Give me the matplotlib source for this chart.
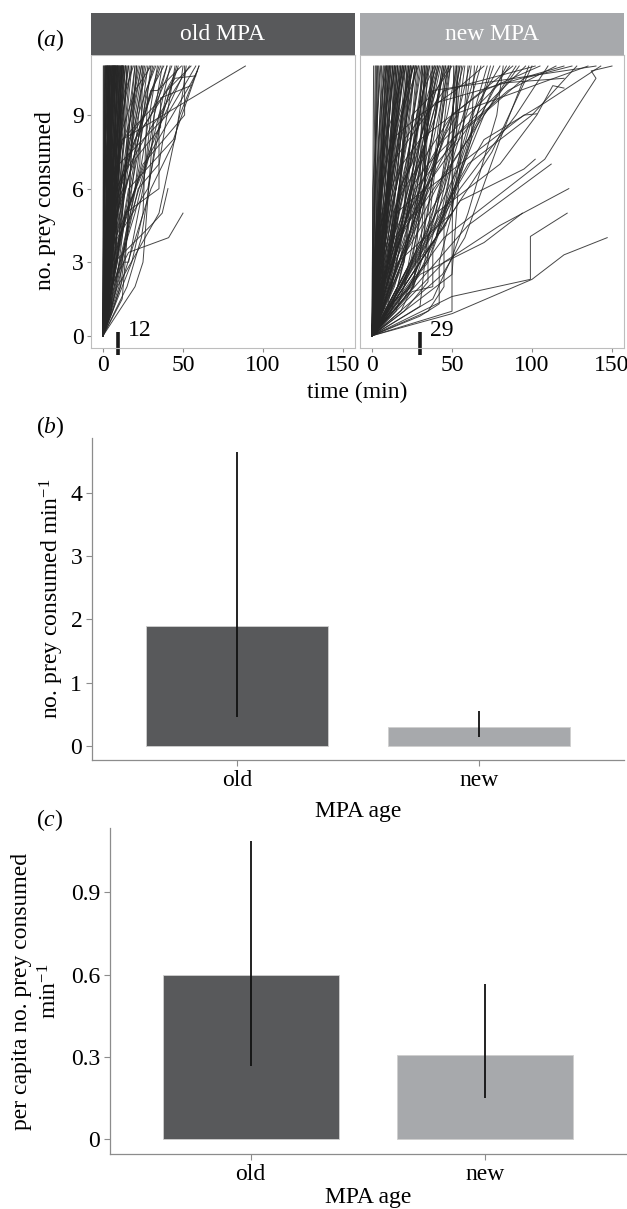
import matplotlib
matplotlib.use("Agg")
import matplotlib.pyplot as plt

plt.rcParams['font.family'] = ['Liberation Serif', 'DejaVu Serif']
plt.rcParams['mathtext.fontset'] = 'custom'
plt.rcParams['mathtext.rm'] = 'Liberation Serif'
plt.rcParams['mathtext.it'] = 'Liberation Serif:italic'
plt.rcParams['mathtext.default'] = 'regular'

# ---------------- data ----------------
facets = ["old MPA", "new MPA"]
strip_colors = ["#58595b", "#a7a9ac"]
median_time_pos = [9.5, 30]
median_time_labels = ["12", "29"]

old_paths = [
    [(0,0),(0.5,11)], [(0,0),(1,11)], [(0,0),(0.8,5),(1.5,11)], [(0,0),(1,3),(2,11)],
    [(0,0),(0.3,4),(2.5,11)], [(0,0),(2,6),(3,11)], [(0,0),(1.5,2),(3.5,11)],
    [(0,0),(0.5,7),(4,11)], [(0,0),(2.5,4),(4,11)], [(0,0),(3,8),(4.5,11)],
    [(0,0),(1,1),(2,5),(5,11)], [(0,0),(4,7),(5.5,11)], [(0,0),(0.5,2),(4.5,9),(6,11)],
    [(0,0),(3,3),(6.5,11)], [(0,0),(2,4),(5,8),(7,11)], [(0,0),(5,6),(7.5,11)],
    [(0,0),(1,2),(6,10),(8,11)], [(0,0),(3.5,5),(8.5,11)], [(0,0),(6,9),(9,11)],
    [(0,0),(2,2),(7,7),(9.5,11)], [(0,0),(4,4),(10,11)], [(0,0),(1.2,6),(2.2,11)],
    [(0,0),(0.7,3),(1.8,9),(3,11)], [(0,0),(2.8,5),(3.3,11)], [(0,0),(1.6,8),(5,11)],
    [(0,0),(3.8,6),(4.2,11)], [(0,0),(0.9,1),(5.2,10),(5.8,11)], [(0,0),(2.2,3),(6.2,11)],
    [(0,0),(4.6,8),(6.8,11)], [(0,0),(1.4,4),(3.6,6),(7.2,11)], [(0,0),(5.5,5),(7.8,11)],
    [(0,0),(2.6,7),(8.2,11)], [(0,0),(0.4,1),(1.2,11)], [(0,0),(1.9,4),(2.7,11)],
    [(0,0),(3.2,9),(3.8,11)], [(0,0),(0.6,5),(4.8,11)], [(0,0),(2.4,1),(5.4,11)],
    [(0,0),(3.4,2),(6.4,11)], [(0,0),(1.1,7),(7.4,11)], [(0,0),(6.6,7),(8.8,11)],
    [(0,0),(2,0.5),(9.2,11)], [(0,0),(0.2,3),(1.6,11)], [(0,0),(1.3,10),(2.4,11)],
    [(0,0),(2.9,4),(3.1,11)], [(0,0),(0.2,11)],
    [(0,0),(1,2),(3,6),(6,9),(8,11)], [(0,0),(2,2),(4,5),(7,8),(9,11)],
    [(0,0),(1,1),(5,6),(9,9),(10,11)], [(0,0),(3,3),(6,7),(10,9),(11,11)],
    [(0,0),(2,1),(6,5),(9,8),(12,11)], [(0,0),(4,2),(7,6),(11,10),(12,11)],
    [(0,0),(5,1),(8,4),(10,7),(11.5,11)], [(0,0),(3,1.5),(7,5.5),(10.5,11)],
    [(0,0),(6,3),(9,6),(11,9),(12.5,11)], [(0,0),(2,3),(8,7),(10,10),(11,11)],
    [(0,0),(1.5,1),(4,3),(8,6),(9.5,9),(10.5,11)], [(0,0),(4.5,4),(7.5,7),(9,9),(11.5,11)],
    [(0,0),(3.5,2.5),(5.5,6),(8.5,10),(9.5,11)], [(0,0),(2.5,3.5),(6.5,8.5),(8.5,11)],
    [(0,0),(5,3),(6,6),(9,10),(10,11)], [(0,0),(1,0.5),(3,4),(5,6),(7,9),(7.5,11)],
    [(0,0),(4,5),(6,9),(6.5,11)], [(0,0),(6.5,4),(8,7),(10.5,9),(12,11)],
    [(0,0),(3,1),(8,3),(9,6),(11,8),(13,11)], [(0,0),(4,3),(7,4),(10,8),(13,11)],
    [(0,0),(3,2),(9,5),(12,9),(14,11)], [(0,0),(5,4),(10,6),(13,8),(15,11)],
    [(0,0),(2,4),(3,7),(5,11)], [(0,0),(1,1),(3,3),(4,9),(6,11)], [(0,0),(1,2),(3,6),(4,8),(7,11)],
    [(0,0),(2,1),(4,4),(6,5),(8,8),(10,9),(12,11)], [(0,0),(3,2),(5,6),(9,7),(11,10),(13,11)],
    [(0,0),(1,3),(7,4),(8,8),(14,11)], [(0,0),(4,1),(6,3),(9,7),(12,8),(15,11)],
    [(0,0),(5,5),(8,6),(11,9),(16,11)], [(0,0),(6,4),(9,5),(13,8),(17,11)],
    [(0,0),(2,2),(10,4),(12,7),(15,9),(18,11)], [(0,0),(7,6),(10,7),(14,10),(19,11)],
    [(0,0),(4,3),(12,5),(16,9),(20,11)], [(0,0),(6,2),(11,6),(18,8),(21,11)],
    [(0,0),(3,5),(13,6),(17,9),(23,11)], [(0,0),(9,3),(14,7),(20,9),(25,11)],
    [(0,0),(5,1),(15,4),(18,8),(27,11)], [(0,0),(8,5),(19,7),(24,10),(29,11)],
    [(0,0),(4,4),(14,6),(22,8),(31,11)], [(0,0),(11,4),(16,8),(26,9),(35,11)],
    [(0,0),(7,2),(18,5),(27,7),(37,11)], [(0,0),(10,6),(20,8),(30,9),(43,11)],
    [(0,0),(15,2),(24,4),(33,8),(46,11)], [(0,0),(9,4),(28,6),(40,10),(55,11)],
    [(0,0),(3,3),(22,8),(30,10),(34,10),(49,11)],
    [(0,0),(3,4),(8,9),(12,11)], [(0,0),(5,3),(10,8),(14,11)], [(0,0),(2,5),(9,7),(16,11)],
    [(0,0),(6,5),(12,9),(18,11)], [(0,0),(4,2),(13,6),(20,11)], [(0,0),(7,4),(15,8),(22,11)],
    [(0,0),(3,6),(18,9),(24,11)], [(0,0),(8,3),(16,7),(26,11)], [(0,0),(10,2),(18,6),(28,11)],
    [(0,0),(5,7),(20,10),(30,11)], [(0,0),(9,5),(22,9),(32,11)], [(0,0),(12,3.5),(24,7),(34,11)],
    [(0,0),(4,5),(14,7),(26,9),(36,11)], [(0,0),(11,6),(30,10),(38,11)],
    [(0,0),(13,3),(16,3),(25,6),(30,9),(40,11)], [(0,0),(6,2),(20,5),(35,9),(42,11)],
    [(0,0),(15,4),(22,6),(35,7),(45,11)], [(0,0),(8,6),(30,8.5),(38,9.2),(47,11)],
    [(0,0),(10,4),(20,6),(35,8.5),(49,10.5),(50,11)], [(0,0),(12,8),(37,9.7),(47,10.9)],
    [(0,0),(6,3),(25,7),(51,9),(51,11)], [(0,0),(14,5),(35,6),(35,9),(54,11)],
    [(0,0),(10,7),(40,9),(58,11)], [(0,0),(8,4),(30,7.5),(55,10.3),(59,10.8)],
    [(0,0),(16,6),(44,8),(60,11)], [(0,0),(5,5),(12,8),(89,11)],
    [(0,0),(5,2),(16,3.4),(41,4),(50,5)], [(0,0),(7,3),(30,4.5),(37,5),(40.6,6)],
    [(0,0),(10,1),(20,2),(25,3),(32,9),(40,11)], [(0,0),(12,1.5),(15,4),(19,9),(24,11)],
    [(0,0),(18,3),(25,5),(28,10),(30,11)], [(0,0),(6,1),(30,6),(45,8),(50,10),(52,11)],
    [(0,0),(9,2),(35,5),(48,9),(60,11)], [(0,0),(25,8.5),(45,10.5),(58,10.6)],
    [(0,0),(20,7.2),(36,8.5),(36,9.7),(55,10.2)], [(0,0),(8,2),(14,5),(20,6),(27,10),(33,11)],
    [(0,0),(11,2),(17,5),(23,7),(25,11)], [(0,0),(7,5),(17,8),(21,11)],
]

new_paths = [
    [(0,0),(1,11)], [(0,0),(2,11)], [(0,0),(1,4),(3,11)], [(0,0),(2,3),(4,11)],
    [(0,0),(0.5,6),(5,11)], [(0,0),(3,5),(6,11)], [(0,0),(1.5,2),(4,8),(7,11)],
    [(0,0),(2,6),(8,11)], [(0,0),(4,4),(9,11)], [(0,0),(6,7),(10,11)],
    [(0,0),(3,2),(8,9),(11,11)], [(0,0),(5,5),(12,11)], [(0,0),(1,1),(2,5),(2.5,11)],
    [(0,0),(0.8,3),(3.5,11)], [(0,0),(2.5,8),(5.5,11)], [(0,0),(4.5,6),(7.5,11)],
    [(0,0),(1.2,2),(6.5,10),(9.5,11)], [(0,0),(3.5,3),(10.5,11)], [(0,0),(2,1),(5,6),(11.5,11)],
    [(0,0),(7,9),(8.5,11)],
    [(0,0),(1,3),(4,5),(7,9),(10,11)], [(0,0),(2,4),(5,5),(7,8),(11,11)],
    [(0,0),(3,1),(5,4),(8,6),(10,9),(13,11)], [(0,0),(1,2),(4,3),(6,7),(9,8),(14,11)],
    [(0,0),(4,5),(9,7),(12,10),(15,11)], [(0,0),(2,3),(7,4),(11,7),(13,9),(18,11)],
    [(0,0),(5,6),(8,8),(13,9),(20,11)], [(0,0),(3,4),(8,5),(14,7),(19,9),(23,11)],
    [(0,0),(7,4),(15,6),(21,10),(26,11)], [(0,0),(11,7),(18,9),(29,11)],
    [(0,0),(20,8),(32,9),(33,11)], [(0,0),(25,9),(40,10),(48,11)], [(0,0),(30,9),(52,10),(70,11)],
    [(0,0),(3,2),(6,3),(9,6),(12,8),(16,11)], [(0,0),(5,3),(8,4),(13,7),(18,10),(21,11)],
    [(0,0),(2,1),(7,3),(11,6),(14,9),(19,11)], [(0,0),(6,4),(10,5),(16,8),(24,11)],
    [(0,0),(4,1),(9,2),(15,5),(22,9),(27,11)], [(0,0),(8,2),(13,5),(20,6),(26,9),(31,11)],
    [(0,0),(3,3),(11,4),(18,6),(24,7),(33,11)], [(0,0),(7,1),(14,3),(22,4),(30,8),(36,11)],
    [(0,0),(10,3),(17,6),(25,7),(32,10),(39,11)], [(0,0),(5,2),(16,4),(27,5),(33,6),(33,9),(41,11)],
    [(0,0),(12,1),(20,3),(29,6),(37,8),(45,11)], [(0,0),(9,5),(19,7),(30,8),(40,10),(50,11)],
    [(0,0),(14,4),(26,5),(38,7),(47,9),(53,11)],
    [(0,0),(2,2),(13,3),(24,6),(35,7),(53,9),(53,10),(57,11)],
    [(0,0),(6,1),(25,2),(32,4),(43,6),(50,8),(61,11)],
    [(0,0),(16,1.5),(27,2.5),(38,5),(46,7),(52,10),(55,11)],
    [(0,0),(20,2),(29,5),(36,6),(44,8),(49,11)],
    [(0,0),(2,3),(5,7),(9,11)], [(0,0),(3,2),(7,8),(12,11)], [(0,0),(1,2),(6,6),(10,9),(13,11)],
    [(0,0),(4,4),(8,7),(14,11)], [(0,0),(2,1),(9,6),(15,11)], [(0,0),(5,4),(11,8),(16,11)],
    [(0,0),(3,3),(10,6),(14,9),(17,11)], [(0,0),(6,3),(12,7),(18,11)],
    [(0,0),(1,1),(8,5),(15,9),(19,11)], [(0,0),(7,5),(14,8),(20,11)],
    [(0,0),(4,2),(11,5),(17,8),(21,11)], [(0,0),(8,3),(16,7),(20,9),(22,11)],
    [(0,0),(3,4),(12,6),(23,11)], [(0,0),(9,4),(18,7),(24,11)],
    [(0,0),(6,2),(14,4),(20,8),(25,11)], [(0,0),(11,5),(19,9),(26,11)],
    [(0,0),(5,1),(15,5),(27,11)], [(0,0),(10,6),(22,9),(28,11)], [(0,0),(13,4),(24,8),(30,11)],
    [(0,0),(7,1.5),(20,5),(26,8),(32,11)], [(0,0),(15,5),(33,6),(33,10),(34,11)],
    [(0,0),(12,2),(25,6),(33,9),(35,11)], [(0,0),(8,1),(33,4),(33,8),(38,11)],
    [(0,0),(17,3),(28,6),(36,10),(40,11)], [(0,0),(19,6),(30,8),(42,11)],
    [(0,0),(10,1),(25,3),(35,7),(44,11)], [(0,0),(23,5),(38,9),(46,11)],
    [(0,0),(14,2),(32,6),(48,11)], [(0,0),(27,6),(53,8),(53,11)],
    [(0,0),(18,1),(40,4),(50,7),(54,11)], [(0,0),(34,3),(45,6),(53,9),(56,11)],
    [(0,0),(26,2),(40,5),(55,11)], [(0,0),(35,1),(45,2),(45,5),(52,8),(58,11)],
    [(0,0),(30,0.8),(42,1.3),(42,3),(50,5),(62,11)], [(0,0),(20,1),(35,2.2),(35,4),(48,7),(66,11)],
    [(0,0),(25,1.8),(38,2),(38,3.5),(52,6),(70,10),(74,11)],
    [(0,0),(38,1.5),(50,3.2),(60,5),(78,9),(82,11)], [(0,0),(28,3),(46,4.5),(62,8),(75,10),(86,11)],
    [(0,0),(15,2.8),(40,6),(70,9),(90,11)], [(0,0),(44,2.5),(58,4),(80,8),(98,11)],
    [(0,0),(18,4),(50,8),(85,10),(115,11)], [(0,0),(22,5),(60,8.5),(95,10.5),(125,11)],
    [(0,0),(12,7),(45,10),(102,11)],
    [(0,0),(4,3),(9,7),(13,11)], [(0,0),(6,2),(10,6),(14,11)], [(0,0),(3,5),(12,8),(15,11)],
    [(0,0),(8,4),(16,11)], [(0,0),(5,1),(12,7),(17,11)], [(0,0),(10,5),(18,11)],
    [(0,0),(2,2),(14,8),(19,11)], [(0,0),(7,3),(20,11)], [(0,0),(9,6),(16,9),(21,11)],
    [(0,0),(12,4),(22,11)], [(0,0),(6,5),(18,7),(23,11)], [(0,0),(14,3),(24,11)],
    [(0,0),(10,2),(17,6),(25,11)], [(0,0),(8,7),(26,11)], [(0,0),(15,6),(22,8),(27,11)],
    [(0,0),(5,3),(20,5),(28,11)], [(0,0),(18,4),(29,11)], [(0,0),(12,8),(30,9),(31,11)],
    [(0,0),(20,3),(26,7),(32,11)], [(0,0),(16,2),(30,6),(31,9),(33,11)],
    [(0,0),(9,1),(22,5),(34,11)], [(0,0),(24,7),(35,11)], [(0,0),(14,5),(28,9),(36,11)],
    [(0,0),(20,1.5),(30,3),(37,11)], [(0,0),(11,3),(34,8),(38,11)], [(0,0),(25,4),(32,7),(39,11)],
    [(0,0),(18,6),(40,11)], [(0,0),(7,2),(28,6),(36,9),(41,11)], [(0,0),(22,5),(42,11)],
    [(0,0),(26,2),(33,8),(43,11)], [(0,0),(13,2),(30,5),(44,11)], [(0,0),(28,7),(40,9),(45,11)],
    [(0,0),(15,1),(35,5),(46,11)], [(0,0),(30,1.2),(38,6),(47,11)], [(0,0),(24,3),(42,8),(48,11)],
    [(0,0),(32,4),(44,9),(49,11)], [(0,0),(50,1),(50,3),(51,11)],
    [(0,0),(16,3),(50,5),(50,8),(52,11)], [(0,0),(20,4.5),(50,9),(53,11)],
    [(0,0),(30,1.5),(50,2.5),(55,7),(60,11)], [(0,0),(25,2.5),(40,4),(62,8),(64,11)],
    [(0,0),(22,3.5),(45,6),(68,11)], [(0,0),(35,3),(50,6),(72,11)], [(0,0),(18,2),(55,7),(76,11)],
    [(0,0),(40,4),(62,9),(80,11)], [(0,0),(28,5),(60,8),(84,11)], [(0,0),(20,6),(50,9),(88,11)],
    [(0,0),(45,5),(70,9),(92,11)], [(0,0),(35,7),(65,9),(96,11)], [(0,0),(50,5),(75,7.5),(100,11)],
    [(0,0),(30,8),(70,10),(105,11)], [(0,0),(55,6),(90,9),(110,11)],
    [(0,0),(45,8),(80,10.3),(120,10.5)], [(0,0),(40,9.5),(120,11)],
    [(0,0),(60,7),(100,9),(128,11)], [(0,0),(50,9),(135,11)], [(0,0),(70,8),(108,9.5),(143,11)],
    [(0,0),(38,10),(140,11)],
    [(0,0),(45,4),(108,7.2),(130,9.5),(140,10.5),(137,10.8),(150,11)],
    [(0,0),(50,0.9),(100,2.3),(120,3.3),(147,4)],
    [(0,0),(50,1.6),(99,2.3),(99,4.05),(122,5)],
    [(0,0),(30,2.5),(70,3.8),(94,5)], [(0,0),(45,3),(80,4.5),(123,6)],
    [(0,0),(60,4.5),(112,7)], [(0,0),(40,5),(80,7),(103,9),(113,10.2),(120,10.1)],
    [(0,0),(35,6),(75,8),(95,9),(103,9.05)], [(0,0),(55,5.5),(95,6.8),(102,7.2)],
]
paths_by_facet = [old_paths, new_paths]

ages = ["old", "new"]
bar_colors = ["#58595b", "#a7a9ac"]
rate_mean = [1.90, 0.29]
rate_lo = [0.46, 0.14]
rate_hi = [4.66, 0.55]
pc_mean = [0.598, 0.307]
pc_lo = [0.266, 0.151]
pc_hi = [1.089, 0.565]

# ---------------- figure ----------------
W, H = 627, 1209
fig = plt.figure(figsize=(W/100, H/100), dpi=100)
FS = 17
AXC = "#8c8c8c"

def frac(l, t, r, b):
    return [l/W, 1-b/H, (r-l)/W, (b-t)/H]

panel_boxes = [(91, 55, 355, 348), (360, 55, 624, 348)]
for i, (l, t, r, b) in enumerate(panel_boxes):
    ax = fig.add_axes(frac(l, t, r, b))
    for p in paths_by_facet[i]:
        xs = [q[0] for q in p]
        ys = [q[1] for q in p]
        ax.plot(xs, ys, color="#262626", lw=0.7, alpha=0.85)
    ax.set_xlim(-7.5, 157.5)
    ax.set_ylim(-0.5, 11.45)
    ax.set_xticks([0, 50, 100, 150])
    ax.set_yticks([0, 3, 6, 9])
    for s in ax.spines.values():
        s.set_color("#bdbdbd")
        s.set_linewidth(0.8)
    ax.tick_params(axis='both', colors=AXC, labelcolor="black", labelsize=FS, length=3, width=0.8, pad=2)
    if i == 1:
        ax.set_yticklabels([])
        ax.tick_params(axis='y', length=0)
    ax.plot([median_time_pos[i]]*2, [0.16, -0.8], color="#1a1a1a", lw=2.6, solid_capstyle='butt', clip_on=False)
    ax.text(median_time_pos[i] + 6, 0.2, median_time_labels[i], fontsize=FS, va='center', ha='left')
    sax = fig.add_axes(frac(l, 13, r, 55))
    sax.set_xticks([]); sax.set_yticks([])
    sax.set_facecolor(strip_colors[i])
    for s in sax.spines.values():
        s.set_visible(False)
    sax.text(0.5, 0.5, facets[i], color="white", fontsize=FS, ha='center', va='center', transform=sax.transAxes)

fig.text(46/W, 1-201/H, "no. prey consumed", rotation=90, fontsize=FS, ha='center', va='center')
fig.text(357/W, 1-392/H, "time (min)", fontsize=FS, ha='center', va='center')
fig.text(36/W, 1-40/H, r"($\mathit{a}$)", fontsize=FS, ha='left', va='center')

def bar_panel(box, means, lo, hi, ylim, yticks, yticklabels, ylabels, tag, tag_y, xlab_y):
    ax = fig.add_axes(frac(*box))
    x = [1, 2]
    ax.bar(x, means, width=0.75, color=bar_colors, edgecolor="#cfcfcf", linewidth=0.6)
    for xi, l_, h_ in zip(x, lo, hi):
        ax.plot([xi, xi], [l_, h_], color="#111111", lw=1.3, solid_capstyle='butt')
    ax.set_xlim(0.4, 2.6)
    ax.set_ylim(*ylim)
    ax.set_xticks(x)
    ax.set_xticklabels(ages)
    ax.set_yticks(yticks)
    ax.set_yticklabels(yticklabels)
    ax.spines['top'].set_visible(False)
    ax.spines['right'].set_visible(False)
    for s in ['left', 'bottom']:
        ax.spines[s].set_color(AXC)
        ax.spines[s].set_linewidth(0.9)
    ax.tick_params(axis='both', colors=AXC, labelcolor="black", labelsize=FS, length=4, width=0.8, pad=3)
    ymid = (box[1] + box[3]) / 2
    for txt, xpos in ylabels:
        fig.text(xpos/W, 1-ymid/H, txt, rotation=90, fontsize=FS, ha='center', va='center')
    fig.text(36/W, 1-tag_y/H, tag, fontsize=FS, ha='left', va='center')
    fig.text(((box[0]+box[2])/2)/W, 1-xlab_y/H, "MPA age", fontsize=FS, ha='center', va='center')
    return ax

bar_panel((92, 438, 624, 760), rate_mean, rate_lo, rate_hi, (-0.227, 4.876),
          [0, 1, 2, 3, 4], ["0", "1", "2", "3", "4"],
          [(r"no. prey consumed min$^{-1}$", 52)], r"($\mathit{b}$)", 427, 812)

bar_panel((110, 828, 626, 1154), pc_mean, pc_lo, pc_hi, (-0.055, 1.135),
          [0, 0.3, 0.6, 0.9], ["0", "0.3", "0.6", "0.9"],
          [("per capita no. prey consumed", 22), (r"min$^{-1}$", 50)],
          r"($\mathit{c}$)", 820, 1197)

fig.savefig("out.png", dpi=100)
